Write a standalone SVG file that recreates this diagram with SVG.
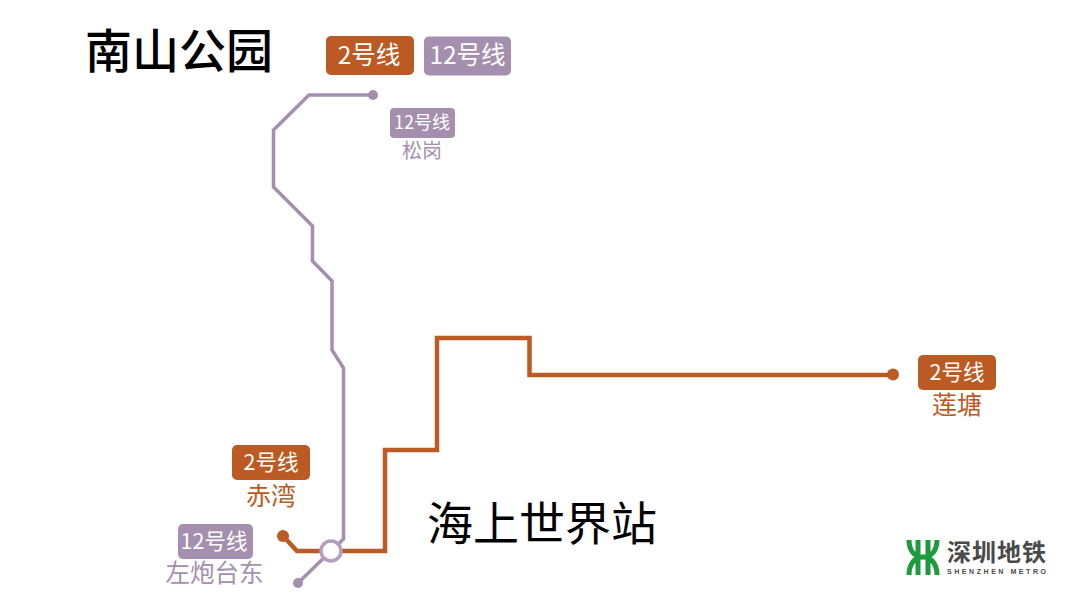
<svg xmlns="http://www.w3.org/2000/svg" width="1080" height="593" viewBox="0 0 1080 593">
<style>
text{font-family:"Noto Sans CJK SC","Noto Sans",sans-serif;text-anchor:middle}
.title{font-size:47px;fill:#000;font-weight:500}
.tag{fill:#fff;font-weight:400}
.o{fill:#bb5a23}.p{fill:#a58fae}
.ol{fill:none;stroke:#bb5a23;stroke-width:4.500}
.pl{fill:none;stroke:#a58fae;stroke-width:3.500}
</style>
<rect width="1080" height="593" fill="#fff"/>
<g id="connectors">
<path class="pl" d="M373 95H309L273.500 130V187L312.500 226V261L332 281V350L343.500 368V539L331 551L298 583"/>
<path class="ol" d="M283 536L297 551H385V450H437V338H529.500V375H893"/>
<circle class="p" cx="373" cy="95" r="5"/>
<circle class="p" cx="298" cy="583" r="5"/>
<circle class="o" cx="283" cy="536" r="6"/>
<circle class="o" cx="893" cy="374.500" r="6"/>
</g>
<g id="title-nanshan"><text class="title" x="179" y="68">南山公园</text></g>
<g id="title-haishang"><text x="542" y="540" style="font-size:46px;fill:#000;font-weight:400">海上世界站</text></g>
<g id="legend-2"><rect class="o" x="326" y="36" width="88" height="39" rx="5"/><text class="tag" x="369" y="64" font-size="24.500">2号线</text></g>
<g id="legend-12"><rect class="p" x="424" y="36.500" width="87" height="39" rx="5"/><text class="tag" x="467.500" y="64" font-size="24.500">12号线</text></g>
<g id="station-songgang"><rect class="p" x="390" y="108" width="65" height="30" rx="4"/><text class="tag" x="422" y="129" font-size="18">12号线</text><text x="422" y="158" font-size="20" class="p">松岗</text></g>
<g id="station-liantang"><rect class="o" x="918" y="355" width="78" height="35" rx="5"/><text class="tag" x="957" y="380" font-size="21.500">2号线</text><text x="957" y="414" font-size="25" class="o">莲塘</text></g>
<g id="station-chiwan"><rect class="o" x="232" y="445" width="78" height="35" rx="5"/><text class="tag" x="271" y="470" font-size="21.500">2号线</text><text x="271" y="505" font-size="25" class="o">赤湾</text></g>
<g id="station-zuopaotaidong"><rect class="p" x="178" y="524" width="75" height="35" rx="5"/><text class="tag" x="214" y="549" font-size="21.500">12号线</text><text x="214.500" y="582" font-size="24.500" class="p">左炮台东</text></g>
<g id="station-interchange"><circle cx="331" cy="551" r="10" fill="#fff" stroke="#b39fbb" stroke-width="3.500"/></g>
<g id="logo">
<path fill="none" stroke="#1f9a3c" stroke-width="5" d="M909 540C909 550 914 557 923 557C932 557 937 550 937 540M909 575C909 565 914 557 923 557C932 557 937 565 937 575M918 540V575M928 540V575"/>
<text x="996.500" y="561" font-size="24" font-weight="700" fill="#4a4a4a" textLength="99">深圳地铁</text>
<text x="996.500" y="574" font-size="7" font-weight="700" fill="#4a4a4a" style="font-family:'Liberation Sans',sans-serif" textLength="99">SHENZHEN METRO</text>
</g>
</svg>
